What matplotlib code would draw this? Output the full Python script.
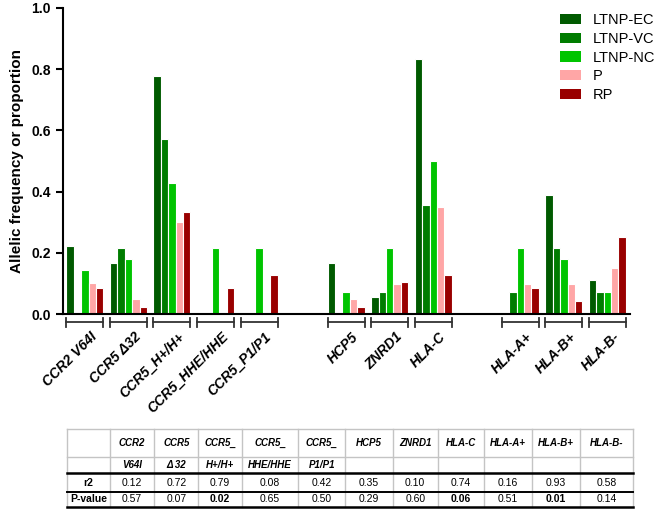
import matplotlib
matplotlib.use("Agg")
import matplotlib.pyplot as plt
from matplotlib.patches import Patch
import numpy as np

plt.rcParams['font.family'] = ['Liberation Sans', 'DejaVu Sans']

# markers and their slot on the x axis (slots 5 and 9 are left empty)
genes = ['CCR2 V64I', 'CCR5 Δ32', 'CCR5_H+/H+', 'CCR5_HHE/HHE', 'CCR5_P1/P1',
         'HCP5', 'ZNRD1', 'HLA-C', 'HLA-A+', 'HLA-B+', 'HLA-B-']
slots = [0, 1, 2, 3, 4, 6, 7, 8, 10, 11, 12]

groups = ['LTNP-EC', 'LTNP-VC', 'LTNP-NC', 'P', 'RP']
ltnp_ec = [0.223, 0.167, 0.776, 0, 0, 0.167, 0.056, 0.832, 0, 0.389, 0.112]
ltnp_vc = [0, 0.215, 0.572, 0, 0, 0, 0.072, 0.357, 0.072, 0.215, 0.072]
ltnp_nc = [0.143, 0.180, 0.429, 0.215, 0.215, 0.072, 0.215, 0.500, 0.215, 0.179, 0.072]
prog = [0.101, 0.051, 0.302, 0, 0, 0.050, 0.100, 0.350, 0.100, 0.100, 0.151]
rprog = [0.085, 0.024, 0.335, 0.085, 0.127, 0.024, 0.104, 0.127, 0.085, 0.042, 0.251]
colors = ['#005a00', '#007c00', '#00c400', '#ffa6a6', '#990000']

# table below the chart
tab_head1 = ['CCR2', 'CCR5', 'CCR5_', 'CCR5_', 'CCR5_', 'HCP5', 'ZNRD1',
             'HLA-C', 'HLA-A+', 'HLA-B+', 'HLA-B-']
tab_head2 = ['V64I', 'Δ 32', 'H+/H+', 'HHE/HHE', 'P1/P1', '', '', '', '', '', '']
r2 = [0.12, 0.72, 0.79, 0.08, 0.42, 0.35, 0.10, 0.74, 0.16, 0.93, 0.58]
pval = [0.57, 0.07, 0.02, 0.65, 0.50, 0.29, 0.60, 0.06, 0.51, 0.01, 0.14]

W, H = 661, 512
fig = plt.figure(figsize=(W / 100, H / 100), dpi=100)
ax = fig.add_axes([62.7 / W, 1 - 314.3 / H, (630 - 62.7) / W, (314.3 - 7.7) / H])

x = np.array(slots, dtype=float)
bw = 0.17
series = [ltnp_ec, ltnp_vc, ltnp_nc, prog, rprog]
for i, vals in enumerate(series):
    ax.bar(x + (i - 2) * bw, vals, bw, color=colors[i], edgecolor='white',
           linewidth=0.8, label=groups[i])

ax.set_xlim(-0.51, 12.52)
ax.set_ylim(0, 1.0)
ax.set_yticks(np.arange(0, 1.01, 0.2))
ax.set_yticklabels(['%.1f' % v for v in np.arange(0, 1.01, 0.2)],
                   fontsize=10, fontweight='bold')
ax.set_xticks([])
ax.spines['top'].set_visible(False)
ax.spines['right'].set_visible(False)
ax.spines['left'].set_linewidth(1.5)
ax.spines['bottom'].set_linewidth(1.5)
ax.tick_params(axis='y', direction='out', length=5, width=1.5)
ax.set_ylabel('Allelic frequency or proportion', fontsize=11, fontweight='bold',
              labelpad=5)

# group brackets and rotated labels
tr = ax.get_xaxis_transform()
half = 2.5 * bw
for g, s in zip(genes, slots):
    ax.plot([s - half, s + half], [-0.026, -0.026], color='#333333', lw=1.3,
            transform=tr, clip_on=False)
    for e in (s - half, s + half):
        ax.plot([e, e], [-0.012, -0.042], color='#333333', lw=1.3,
                transform=tr, clip_on=False)
    ax.text(s + 0.12, -0.05, g, transform=tr, rotation=45, ha='right', va='top',
            rotation_mode='anchor', fontsize=10, fontweight='bold', style='italic')

handles = [Patch(facecolor=c, edgecolor='none') for c in colors]
fig.legend(handles, groups, loc='upper left', bbox_to_anchor=(560 / W, 1 - 13 / H),
           frameon=False, fontsize=10.5, handlelength=1.42, handleheight=0.7,
           handletextpad=0.85, labelspacing=0.33, borderpad=0, borderaxespad=0)

# table drawn in figure pixel coordinates
tax = fig.add_axes([0, 0, 1, 1])
tax.set_xlim(0, W)
tax.set_ylim(H, 0)
tax.axis('off')
col_edges = [67.3, 110, 154.3, 198.3, 241.7, 298.3, 345.3, 392.7, 437.7, 484, 531.7, 580, 633.3]
row_edges = [429.3, 457.3, 473.3, 491.7, 506.7]
grey = '#c4c4c4'
for xe in col_edges:
    tax.plot([xe, xe], [row_edges[0], row_edges[-1]], color=grey, lw=1)
tax.plot([col_edges[0], col_edges[-1]], [row_edges[0]] * 2, color=grey, lw=1)
tax.plot([col_edges[0], col_edges[-1]], [row_edges[1]] * 2, color=grey, lw=1)
tax.plot([col_edges[0], col_edges[-1]], [row_edges[2]] * 2, color='black', lw=1.8)
tax.plot([col_edges[0], col_edges[-1]], [row_edges[3]] * 2, color='black', lw=1.4)
tax.plot([col_edges[0], col_edges[-1]], [row_edges[4]] * 2, color='black', lw=1.8)

row_mid = [(row_edges[k] + row_edges[k + 1]) / 2 for k in range(4)]
tax.text((col_edges[0] + col_edges[1]) / 2, row_mid[2], 'r2', ha='center', va='center',
         fontsize=7.5, fontweight='bold')
tax.text((col_edges[0] + col_edges[1]) / 2, row_mid[3], 'P-value', ha='center',
         va='center', fontsize=7.5, fontweight='bold')
for j in range(len(tab_head1)):
    cx = (col_edges[j + 1] + col_edges[j + 2]) / 2
    tax.text(cx, row_mid[0], tab_head1[j], ha='center', va='center', fontsize=7,
             fontweight='bold', style='italic')
    tax.text(cx, row_mid[1], tab_head2[j], ha='center', va='center', fontsize=7,
             fontweight='bold', style='italic')
    tax.text(cx, row_mid[2], '%.2f' % r2[j], ha='center', va='center', fontsize=7.5)
    tax.text(cx, row_mid[3], '%.2f' % pval[j], ha='center', va='center', fontsize=7.5,
             fontweight='bold' if pval[j] <= 0.06 else 'normal')

fig.savefig('out.png', dpi=100)
